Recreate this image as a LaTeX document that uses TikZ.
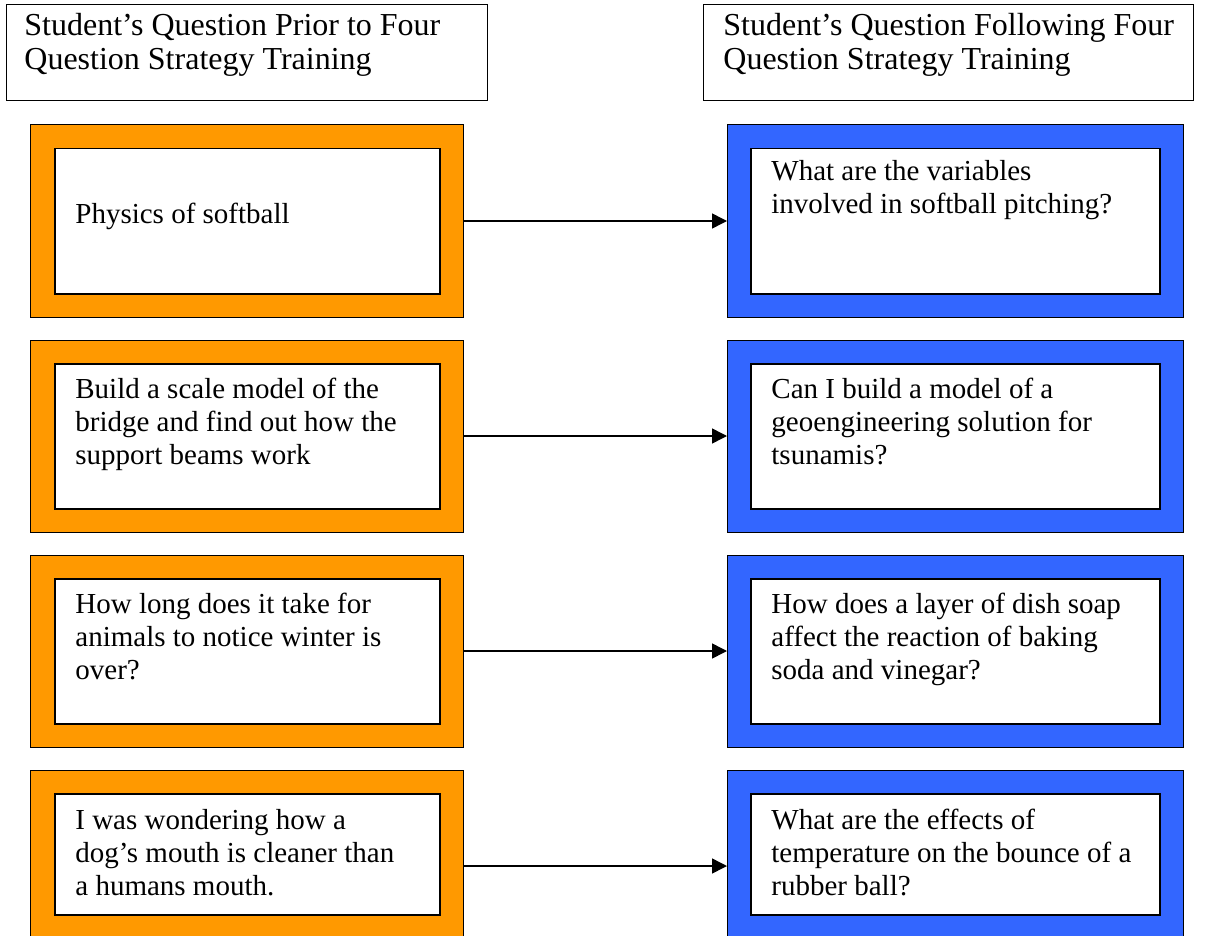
\documentclass[tikz,border=0pt]{standalone}
\usepackage{fontspec}
\setmainfont{Liberation Serif}
\usetikzlibrary{arrows.meta}
\definecolor{cam}{HTML}{FF9900}
\definecolor{xanh}{HTML}{3366FF}
\begin{document}
\begin{tikzpicture}[x=0.5pt, y=-0.5pt, line join = miter, >={Triangle[length=7.5pt,width=7.5pt]},
	khung/.style={draw=black, line width=0.5pt, inner sep=0pt, outer sep=0pt, anchor=north west},
	trong/.style={draw=black, fill=white, line width=0.75pt, inner sep=0pt, anchor=north west},
	chu/.style={anchor=north west, align=left, inner sep=0pt, font=\fontsize{14.5}{16.5}\selectfont, execute at begin node=\strut},
	tieude/.style={anchor=north west, align=left, inner sep=0pt, font=\fontsize{16}{17}\selectfont, execute at begin node=\strut}]
	%Khung hình
	\useasboundingbox (0,0) rectangle (1209,936);
	%Vẽ tiêu đề hai cột
	\node[khung, minimum width=240.5pt, minimum height=48pt] (h1) at (6,5) {};
	\node[khung, minimum width=245pt, minimum height=48pt] (h2) at (703,5) {};
	\node[tieude] (th1) at (24,13.2) {Student’s Question Prior to Four\\Question Strategy Training};
	\node[tieude] (th2) at (723,13.2) {Student’s Question Following Four\\Question Strategy Training};
	%Vẽ các hộp câu hỏi và mũi tên
	\foreach \i/\y/\hi/\dl/\dr/\tl/\tr in {
		1/125/72.5/75/35/{Physics of softball}/{What are the variables\\involved in softball pitching?},
		2/340/72.5/38/38/{Build a scale model of the\\bridge and find out how the\\support beams work}/{Can I build a model of a\\geoengineering solution for\\tsunamis?},
		3/555/72.5/38/38/{How long does it take for\\animals to notice winter is\\over?}/{How does a layer of dish soap\\affect the reaction of baking\\soda and vinegar?},
		4/770/60.5/39/39/{I was wondering how a\\dog’s mouth is cleaner than\\a humans mouth.}/{What are the effects of\\temperature on the bounce of a\\rubber ball?}}{
			\node[khung, fill=cam, minimum width=216.5pt, minimum height=96pt] (o\i) at (30,\y) {};
			\node[trong, minimum width=192.5pt, minimum height=\hi pt] (oi\i) at (54,{\y+23}) {};
			\node[chu] (ot\i) at (75,{\y+\dl}) {\tl};
			\node[khung, fill=xanh, minimum width=228pt, minimum height=96pt] (b\i) at (727,\y) {};
			\node[trong, minimum width=204.5pt, minimum height=\hi pt] (bi\i) at (750,{\y+23}) {};
			\node[chu] (bt\i) at (771,{\y+\dr}) {\tr};
			\draw[->, line width=0.75pt] (o\i.east) -- (b\i.west);
		}
\end{tikzpicture}
\end{document}
